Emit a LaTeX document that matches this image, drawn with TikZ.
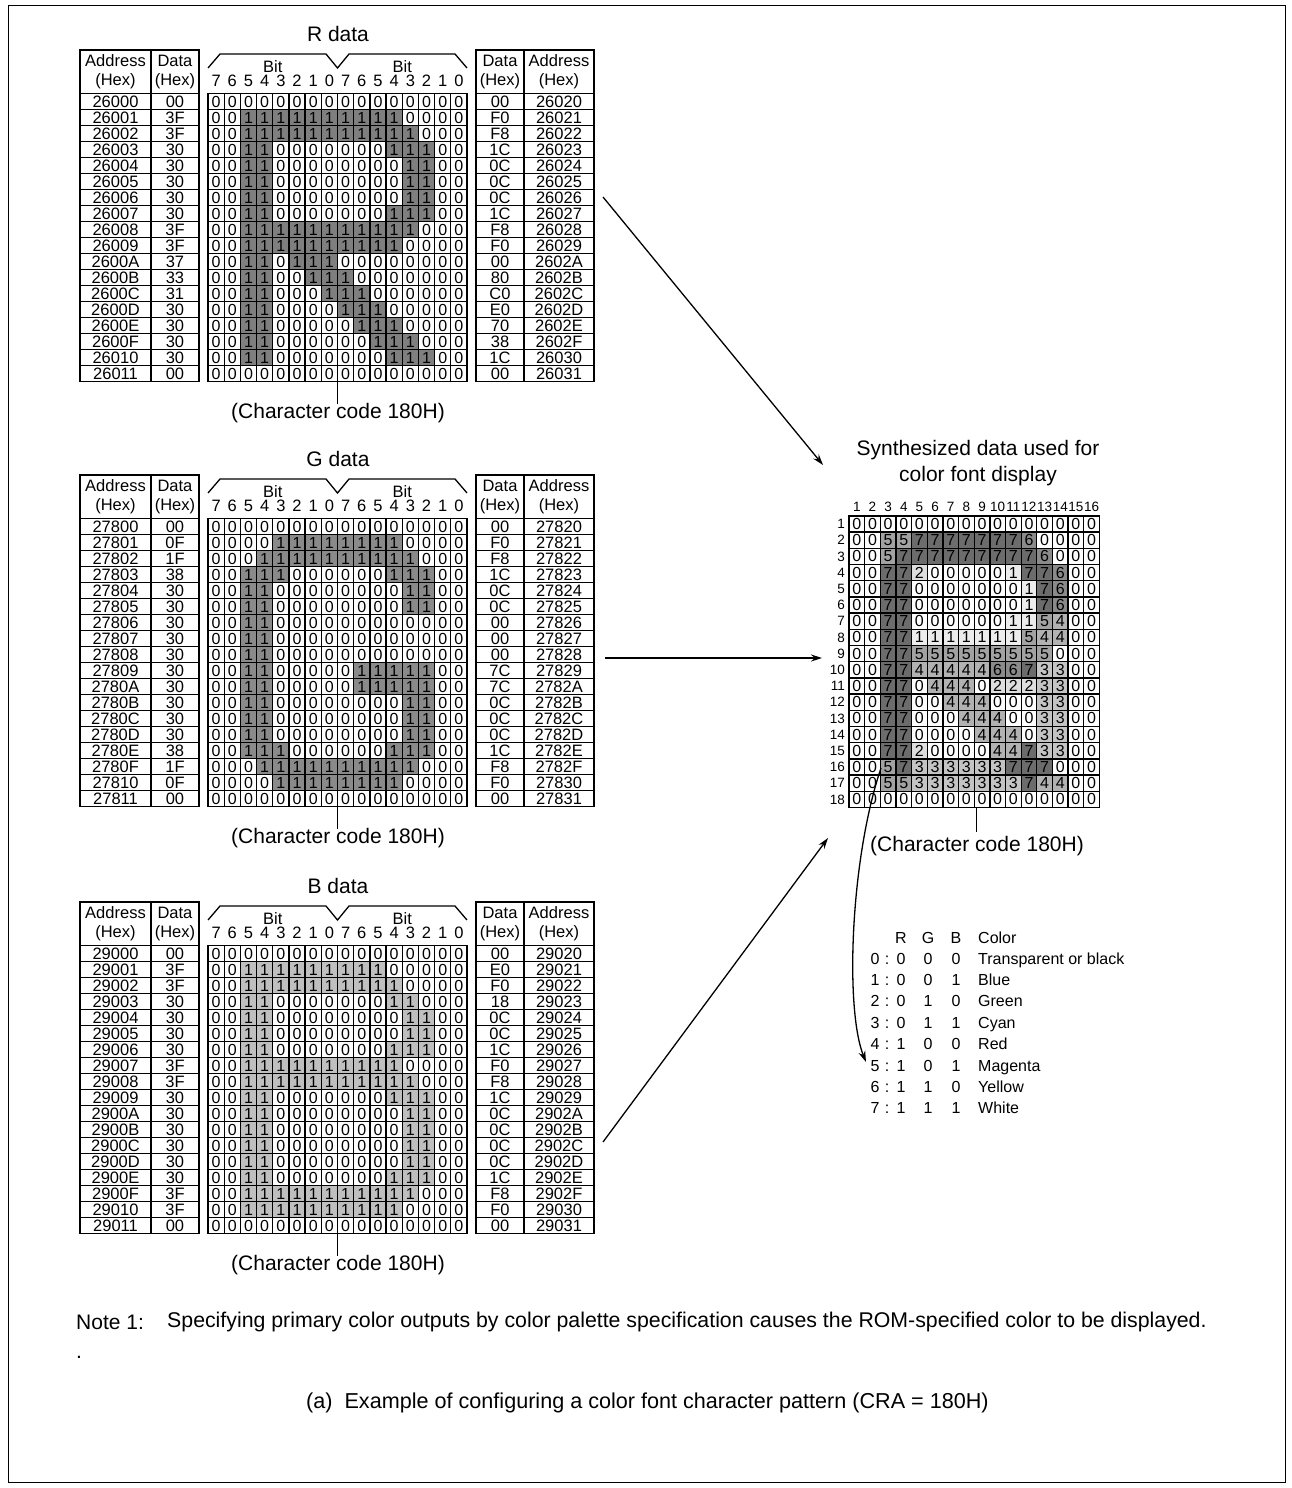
\documentclass[tikz,border=0pt]{standalone}
\usepackage{fontspec}
\setmainfont{Liberation Sans}
\usetikzlibrary{arrows.meta}
\definecolor{R0}{HTML}{FFFFFF}
\definecolor{G0}{HTML}{FFFFFF}
\definecolor{B0}{HTML}{FFFFFF}
\definecolor{R1}{HTML}{7F7F7F}
\definecolor{G1}{HTML}{8A8A8A}
\definecolor{B1}{HTML}{BFBFBF}
\definecolor{S0}{HTML}{FFFFFF}
\definecolor{S1}{HTML}{ECECEC}
\definecolor{S2}{HTML}{DEDEDE}
\definecolor{S3}{HTML}{C4C4C4}
\definecolor{S4}{HTML}{B2B2B2}
\definecolor{S5}{HTML}{A2A2A2}
\definecolor{S6}{HTML}{8A8A8A}
\definecolor{S7}{HTML}{6C6C6C}
\newcount\cidx
\def\gX{0}\def\gY{0}\def\cw{16}\def\ch{16}\def\pal{R}
\newcommand\gridrow[2]{\def\currow{#1}\cidx=0 \expandafter\cellloop#2\relax}
\def\cellloop#1{\ifx#1\relax\else\docell{#1}\advance\cidx by 1 \expandafter\cellloop\fi}
\newcommand\docell[1]{%
  \edef\cc{\pal#1}%
  \edef\cellname{\pal-\currow-\the\cidx}%
  \path[fill=\cc,draw=black,line width=1.3pt] (\gX+\the\cidx*\cw,\gY+\currow*\ch) rectangle ++(\cw,\ch);
  \node[cellnum] (\cellname) at (\gX+\the\cidx*\cw+0.5*\cw,\gY+\currow*\ch+0.5*\ch) {#1};
}
\newcommand\datasection[6]{%
\begin{scope}[yshift=-#1pt]
\node[ttl] (#2-title) at (338,34) {#3};
\foreach \a/\d [count=\i from 0] in {#4} {
  \node[tnum] (#2-la\i) at (115.5,102+16*\i) {\a};
  \node[tnum] (#2-ld\i) at (175,102+16*\i) {\d};
  \draw[tline] (80,109.5+16*\i) -- (199,109.5+16*\i);
}
\node[hdr] (#2-lh1) at (115.5,72) {Address\\(Hex)};
\node[hdr] (#2-lh2) at (175,72) {Data\\(Hex)};
\draw[tline] (80,93.5) -- (199,93.5);
\draw[tline] (151,50) -- (151,381.5);
\draw[tframe] (80,50) rectangle (199,381.5);
\def\gX{208}\def\gY{93.5}\def\cw{16.1875}\def\ch{16}\def\pal{#2}%
\foreach \row [count=\r from 0] in {#5} {\gridrow{\r}{\row}}
\draw[tframe] (208,93.5) rectangle (467,381.5);
\foreach \b [count=\k from 0] in {7,6,5,4,3,2,1,0} {
  \node[tnum] (#2-bl\k) at (216.1+16.1875*\k,81) {\b};
  \node[tnum] (#2-br\k) at (345.6+16.1875*\k,81) {\b};
}
\node[tnum] (#2-bitL) at (272.75,67) {Bit};
\node[tnum] (#2-bitR) at (402.25,67) {Bit};
\draw[line width=1.3pt] (208,68) -- (220,54) -- (326,54) -- (337.5,68) -- (349,54) -- (455,54) -- (467,68);
\foreach \d/\a [count=\i from 0] in {#6} {
  \node[tnum] (#2-rd\i) at (500,102+16*\i) {\d};
  \node[tnum] (#2-ra\i) at (559,102+16*\i) {\a};
  \draw[tline] (476,109.5+16*\i) -- (594,109.5+16*\i);
}
\node[hdr] (#2-rh1) at (500,72) {Data\\(Hex)};
\node[hdr] (#2-rh2) at (559,72) {Address\\(Hex)};
\draw[tline] (476,93.5) -- (594,93.5);
\draw[tline] (524,50) -- (524,381.5);
\draw[tframe] (476,50) rectangle (594,381.5);
\node[ttl] (#2-code) at (338,413) {(Character code 180H)};
\draw[line width=1.3pt] (337.5,381.5) -- (337.5,404);
\end{scope}}
\begin{document}
\begin{tikzpicture}[x=1pt,y=-1pt,
  ttl/.style={font=\fontsize{21}{25}\selectfont, inner sep=0pt},
  hdr/.style={font=\fontsize{16.5}{19}\selectfont, align=center, inner sep=0pt},
  tnum/.style={font=\fontsize{16.5}{16.5}\selectfont, inner sep=0pt},
  cellnum/.style={font=\fontsize{16}{16}\selectfont, inner sep=0pt},
  lbl/.style={font=\fontsize{13.5}{13.5}\selectfont, inner sep=0pt},
  leg/.style={font=\fontsize{16}{16}\selectfont, inner sep=0pt, anchor=base},
  tline/.style={line width=1.3pt},
  tframe/.style={line width=1.8pt},
  conn/.style={line width=1.3pt, -{Stealth[length=11pt,width=7pt]}}]
\useasboundingbox (0,0) rectangle (1292,1488);
\draw[line width=1pt] (8,6) rectangle (1285,1482);

\datasection{0}{R}{R data}
{26000/00,26001/3F,26002/3F,26003/30,26004/30,26005/30,26006/30,26007/30,26008/3F,26009/3F,2600A/37,2600B/33,2600C/31,2600D/30,2600E/30,2600F/30,26010/30,26011/00}
{0000000000000000,0011111111110000,0011111111111000,0011000000011100,0011000000001100,0011000000001100,0011000000001100,0011000000011100,0011111111111000,0011111111110000,0011011100000000,0011001110000000,0011000111000000,0011000011100000,0011000001110000,0011000000111000,0011000000011100,0000000000000000}
{00/26020,F0/26021,F8/26022,1C/26023,0C/26024,0C/26025,0C/26026,1C/26027,F8/26028,F0/26029,00/2602A,80/2602B,C0/2602C,E0/2602D,70/2602E,38/2602F,1C/26030,00/26031}

\datasection{425}{G}{G data}
{27800/00,27801/0F,27802/1F,27803/38,27804/30,27805/30,27806/30,27807/30,27808/30,27809/30,2780A/30,2780B/30,2780C/30,2780D/30,2780E/38,2780F/1F,27810/0F,27811/00}
{0000000000000000,0000111111110000,0001111111111000,0011100000011100,0011000000001100,0011000000001100,0011000000000000,0011000000000000,0011000000000000,0011000001111100,0011000001111100,0011000000001100,0011000000001100,0011000000001100,0011100000011100,0001111111111000,0000111111110000,0000000000000000}
{00/27820,F0/27821,F8/27822,1C/27823,0C/27824,0C/27825,00/27826,00/27827,00/27828,7C/27829,7C/2782A,0C/2782B,0C/2782C,0C/2782D,1C/2782E,F8/2782F,F0/27830,00/27831}

\datasection{852}{B}{B data}
{29000/00,29001/3F,29002/3F,29003/30,29004/30,29005/30,29006/30,29007/3F,29008/3F,29009/30,2900A/30,2900B/30,2900C/30,2900D/30,2900E/30,2900F/3F,29010/3F,29011/00}
{0000000000000000,0011111111100000,0011111111110000,0011000000011000,0011000000001100,0011000000001100,0011000000011100,0011111111110000,0011111111111000,0011000000011100,0011000000001100,0011000000001100,0011000000001100,0011000000001100,0011000000011100,0011111111111000,0011111111110000,0000000000000000}
{00/29020,E0/29021,F0/29022,18/29023,0C/29024,0C/29025,1C/29026,F0/29027,F8/29028,1C/29029,0C/2902A,0C/2902B,0C/2902C,0C/2902D,1C/2902E,F8/2902F,F0/29030,00/29031}

% synthesized grid
\node[ttl] (stitle1) at (978,450) {Synthesized data used for};
\node[ttl] (stitle2) at (978,476.5) {color font display};
\begin{scope}
\def\gX{849}\def\gY{515.9}\def\cw{15.65}\def\ch{16.2}\def\pal{S}
\foreach \row [count=\r from 0] in {0000000000000000,0055777777760000,0057777777776000,0077200000177600,0077000000017600,0077000000017600,0077000000115400,0077111111154400,0077555555555000,0077444446673300,0077044402223300,0077004440003300,0077000444003300,0077000044403300,0077200004473300,0057333333777000,0055333333374400,0000000000000000} {\gridrow{\r}{\row}}
\end{scope}
\draw[tframe] (849,515.9) rectangle (1099.4,807.5);
\foreach \k in {1,...,16} {\node[lbl] (cn\k) at (849+15.65*\k-7.825,507) {\k};}
\foreach \k in {1,...,18} {\node[lbl,anchor=east] (rn\k) at (845,515.9+16.2*\k-8.1) {\k};}
\coordinate (stick) at (976.7,807.5);
\node[ttl] (scode) at (977,846) {(Character code 180H)};
\draw[line width=1.3pt] (stick) -- (976.7,832);

% legend
\node[leg] (lgR) at (901,943) {R};
\node[leg] (lgG) at (928,943) {G};
\node[leg] (lgB) at (956,943) {B};
\node[leg,anchor=base west] (lgC) at (978,943) {Color};
\foreach \n/\vr/\vg/\vb/\cname [count=\i from 0] in {0/0/0/0/Transparent or black,1/0/0/1/Blue,2/0/1/0/Green,3/0/1/1/Cyan,4/1/0/0/Red,5/1/0/1/Magenta,6/1/1/0/Yellow,7/1/1/1/White} {
  \node[leg] (lg\n) at (875,964+21.4*\i) {\n};
  \node[leg] (lgc\n) at (887,964+21.4*\i) {:};
  \node[leg] (lgr\n) at (901,964+21.4*\i) {\vr};
  \node[leg] (lgg\n) at (928,964+21.4*\i) {\vg};
  \node[leg] (lgb\n) at (956,964+21.4*\i) {\vb};
  \node[leg,anchor=base west] (lgn\n) at (978,964+21.4*\i) {\cname};
}

% connectors
\coordinate (Rout) at (603,197);
\coordinate (Rin) at (823,465);
\coordinate (Gout) at (605,658);
\coordinate (Gin) at (822,658);
\coordinate (Bout) at (603,1142);
\coordinate (Bin) at (828,838);
\coordinate (cstart) at (881,768);
\coordinate (cend) at (866,1062);
\draw[conn] (Rout) -- (Rin);
\draw[conn] (Gout) -- (Gin);
\draw[conn] (Bout) -- (Bin);
\draw[conn] (cstart) .. controls (850,860) and (845,1010) .. (cend);

% notes
\node[ttl,anchor=west] (note1) at (76,1322) {Note 1:};
\node[ttl,anchor=west,font=\fontsize{21.3}{25}\selectfont] (note1t) at (167,1322) {Specifying primary color outputs by color palette specification causes the ROM-specified color to be displayed.};
\node[ttl,anchor=west] (dot) at (76,1357) {.};
\node[ttl,anchor=west,font=\fontsize{21.6}{25}\selectfont] (caption) at (306,1403) {(a)\ \ Example of configuring a color font character pattern (CRA = 180H)};
\end{tikzpicture}
\end{document}
